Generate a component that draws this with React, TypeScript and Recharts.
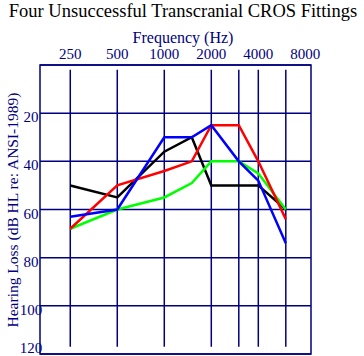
import React from 'react';
import { LineChart, Line, XAxis, YAxis, CartesianGrid, ReferenceLine, ReferenceArea } from 'recharts';

// audiogram, four fittings
const FREQS = [250, 500, 1000, 1500, 2000, 3000, 4000, 6000];
const RED = [68, 50, 44, 40, 25, 25, 40, 64];
const BLUE = [63, 60, 30, 30, 25, 40, 48, 74];
const GREEN = [68, 60, 55, 49, 40, 40, 45, 60];
const BLACK = [50, 55, 36, 30, 50, 50, 50, 60];

const FREQ_TICKS = [250, 500, 1000, 2000, 4000, 8000];
const GRID_FREQS = [250, 500, 1000, 2000, 3000, 4000, 6000];
const DB_TICKS = [20, 40, 60, 80, 100, 120];

const NAVY = '#000080';
const FONT = '"Liberation Serif", "Times New Roman", serif';

const data = FREQS.map((f, i) => ({
    f,
    red: RED[i],
    blue: BLUE[i],
    green: GREEN[i],
    black: BLACK[i],
}));

const TopTick = ({ x, payload }: any) => (
    <text x={x} y={59} textAnchor="middle" fill={NAVY} fontSize={15} fontFamily={FONT}>
        {payload.value}
    </text>
);

const LeftTick = ({ y, payload }: any) => (
    <text x={31} y={Math.min(y + 4, 348)} textAnchor="middle" dominantBaseline="central" fill={NAVY} fontSize={15} fontFamily={FONT}>
        {payload.value}
    </text>
);

export default function App() {
    return (
        <div style={{ position: 'absolute', left: 0, top: 0, width: 364, height: 356, background: '#fff' }}>
            <LineChart
                width={364}
                height={356}
                data={data}
                margin={{ top: 35, right: 53, bottom: 2, left: 0 }}
            >
                <CartesianGrid vertical={false} stroke={NAVY} strokeWidth={1.5} />
                <XAxis
                    dataKey="f"
                    type="number"
                    scale="log"
                    domain={[160, 8700]}
                    allowDataOverflow
                    orientation="top"
                    height={30}
                    ticks={FREQ_TICKS}
                    interval={0}
                    axisLine={false}
                    tickLine={false}
                    tick={<TopTick />}
                />
                <YAxis
                    type="number"
                    domain={[0, 120]}
                    reversed
                    ticks={DB_TICKS}
                    interval={0}
                    width={40}
                    axisLine={false}
                    tickLine={false}
                    tick={<LeftTick />}
                />
                <ReferenceArea x1={160} x2={8700} y1={0} y2={120} fill="none" stroke={NAVY} strokeWidth={1.5} ifOverflow="visible" />
                {GRID_FREQS.map((f) => (
                    <ReferenceLine
                        key={f}
                        segment={[{ x: f, y: 2 }, { x: f, y: 117 }]}
                        stroke={NAVY}
                        strokeWidth={1.5}
                    />
                ))}
                <Line type="linear" dataKey="black" stroke="#000000" strokeWidth={2.5} dot={false} isAnimationActive={false} />
                <Line type="linear" dataKey="green" stroke="#00ff00" strokeWidth={2.5} dot={false} isAnimationActive={false} />
                <Line type="linear" dataKey="red" stroke="#ff0000" strokeWidth={2.5} dot={false} isAnimationActive={false} />
                <Line type="linear" dataKey="blue" stroke="#0000ff" strokeWidth={2.5} dot={false} isAnimationActive={false} />
            </LineChart>
            <svg width={364} height={356} style={{ position: 'absolute', left: 0, top: 0, pointerEvents: 'none' }}>
                <text x={183} y={17} textAnchor="middle" fill="#000" fontSize={18.5} fontFamily={FONT}>
                    Four Unsuccessful Transcranial CROS Fittings
                </text>
                <text x={183} y={43} textAnchor="middle" fill={NAVY} fontSize={16} fontFamily={FONT}>
                    Frequency (Hz)
                </text>
                <text
                    x={12}
                    y={210}
                    transform="rotate(-90 12 210)"
                    textAnchor="middle"
                    dominantBaseline="central"
                    fill={NAVY}
                    fontSize={15.5}
                    fontFamily={FONT}
                >
                    Hearing Loss (dB HL re: ANSI-1989)
                </text>
            </svg>
        </div>
    );
}
